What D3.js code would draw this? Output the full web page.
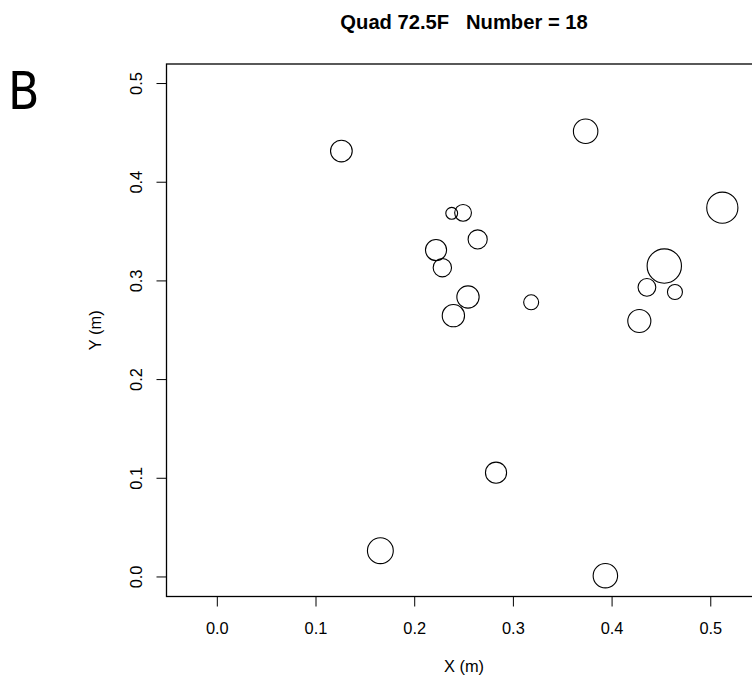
<html>
  <head>
    <script src="https://cdnjs.cloudflare.com/ajax/libs/d3/7.8.5/d3.min.js" charset="utf-8"></script>
    <style type="text/css">
    body { margin: 0; background: #fff; }
    text { font-family: "Liberation Sans", Arial, Helvetica, sans-serif; fill: #000; }
    </style>
  </head>
  <body>
    <div id="chart"></div>
  </body>

  <script type="text/javascript">
  // point positions (m) and circle radius (m)
  var xs = [0.1257, 0.3732, 0.5117, 0.2375, 0.2490, 0.2638, 0.2216, 0.2280, 0.4529,
            0.4353, 0.4637, 0.2540, 0.3180, 0.2392, 0.4276, 0.2824, 0.1652, 0.3932]
  var ys = [0.4316, 0.4516, 0.3742, 0.3685, 0.3690, 0.3420, 0.3313, 0.3134, 0.3151,
            0.2935, 0.2888, 0.2837, 0.2783, 0.2648, 0.2594, 0.1057, 0.0266, 0.0013]
  var radii = [0.0110, 0.0124, 0.0158, 0.0060, 0.0085, 0.0097, 0.0107, 0.0093, 0.0174,
               0.0090, 0.0076, 0.0113, 0.0076, 0.0113, 0.0117, 0.0107, 0.0131, 0.0124]

  var xTicks = [0.0, 0.1, 0.2, 0.3, 0.4, 0.5]
  var yTicks = [0.0, 0.1, 0.2, 0.3, 0.4, 0.5]
  var title = "Quad 72.5F   Number = " + xs.length

  var width = 752,
    height = 683;

  var svg = d3.select("#chart")
    .append("svg")
    .attr("width", width)
    .attr("height", height)

  // asp = 1 so both axes share the same px per metre
  var x = d3.scaleLinear().domain([-0.0515, 0.5515]).range([166.5, 761.6])
  var y = d3.scaleLinear().domain([-0.0198, 0.5198]).range([596.5, 64])

  // box (right side falls outside the window)
  svg.append("rect")
    .attr("x", x.range()[0])
    .attr("y", y.range()[1])
    .attr("width", x.range()[1] - x.range()[0])
    .attr("height", y.range()[0] - y.range()[1])
    .style("fill", "none")
    .style("stroke", "#000")
    .style("stroke-width", 1.3)

  // x axis
  var gx = svg.append("g").attr("transform", "translate(0," + y.range()[0] + ")")
  gx.selectAll("line").data(xTicks).enter().append("line")
    .attr("x1", function(d){return x(d)})
    .attr("x2", function(d){return x(d)})
    .attr("y1", 0)
    .attr("y2", 10)
    .style("stroke", "#000")
  gx.selectAll("text").data(xTicks).enter().append("text")
    .attr("x", function(d){return x(d)})
    .attr("y", 37.5)
    .attr("text-anchor", "middle")
    .style("font-size", "16.4px")
    .text(function(d){return d3.format(".1f")(d)})

  // y axis
  var gy = svg.append("g").attr("transform", "translate(" + x.range()[0] + ",0)")
  gy.selectAll("line").data(yTicks).enter().append("line")
    .attr("x1", -10)
    .attr("x2", 0)
    .attr("y1", function(d){return y(d)})
    .attr("y2", function(d){return y(d)})
    .style("stroke", "#000")
  gy.selectAll("text").data(yTicks).enter().append("text")
    .attr("transform", function(d){return "translate(-24.8," + y(d) + ") rotate(-90)"})
    .attr("text-anchor", "middle")
    .style("font-size", "16.4px")
    .text(function(d){return d3.format(".1f")(d)})

  // axis titles
  var cx = (x.range()[0] + x.range()[1]) / 2
  var cy = (y.range()[0] + y.range()[1]) / 2
  svg.append("text")
    .attr("x", cx)
    .attr("y", 672)
    .attr("text-anchor", "middle")
    .style("font-size", "16.4px")
    .text("X (m)")
  svg.append("text")
    .attr("transform", "translate(100.7," + cy + ") rotate(-90)")
    .attr("text-anchor", "middle")
    .style("font-size", "16.4px")
    .text("Y (m)")

  // main title (keep the run of spaces)
  svg.append("text")
    .attr("x", cx)
    .attr("y", 29.3)
    .attr("text-anchor", "middle")
    .style("white-space", "pre")
    .style("font-size", "20.2px")
    .style("font-weight", "bold")
    .text(title)

  // panel letter
  svg.append("text")
    .attr("x", 8)
    .attr("y", 109.3)
    .style("font-family", "'Liberation Sans Narrow', 'DejaVu Sans Condensed', sans-serif")
    .style("font-stretch", "condensed")
    .style("font-size", "51px")
    .text("B")

  // circles
  var pts = xs.map(function(d, i){return {x: d, y: ys[i], r: radii[i]}})
  svg.append("g").selectAll("circle").data(pts).enter().append("circle")
    .attr("cx", function(d){return x(d.x)})
    .attr("cy", function(d){return y(d.y)})
    .attr("r", function(d){return x(d.r) - x(0)})
    .style("fill", "none")
    .style("stroke", "#000")
    .style("stroke-width", 1.1)
  </script>
</html>
